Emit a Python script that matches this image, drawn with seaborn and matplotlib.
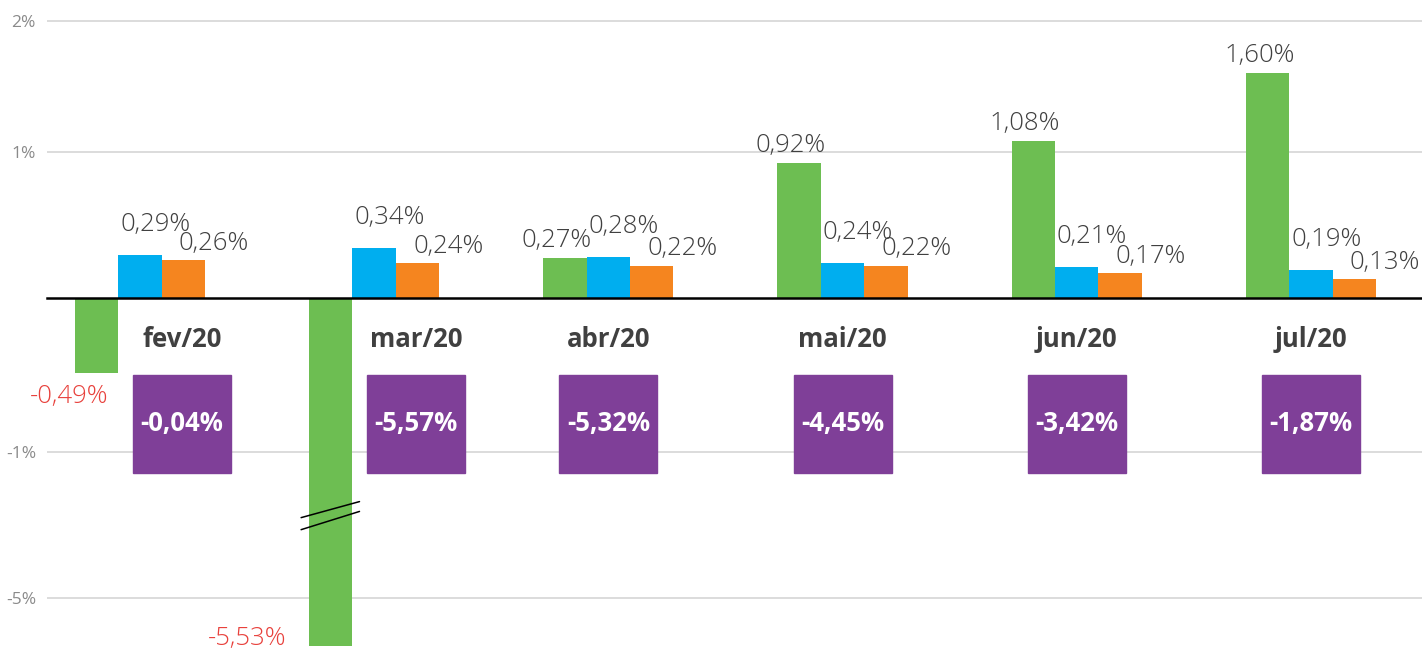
import numpy as np
import pandas as pd
import seaborn as sns
import matplotlib.pyplot as plt
from matplotlib.scale import FuncScale
from matplotlib.transforms import blended_transform_factory

# Dados (variação % por mês)
meses = ['fev/20', 'mar/20', 'abr/20', 'mai/20', 'jun/20', 'jul/20']
series = ['verde', 'azul', 'laranja']
verde = [-0.49, -5.53, 0.27, 0.92, 1.08, 1.60]
azul = [0.29, 0.34, 0.28, 0.24, 0.21, 0.19]
laranja = [0.26, 0.24, 0.22, 0.22, 0.17, 0.13]
acumulado = [-0.04, -5.57, -5.32, -4.45, -3.42, -1.87]

y_ticks = [2, 1, -1, -5]
y_tick_labels = ['2%', '1%', '-1%', '-5%']

cores = ['#6dbe52', '#00aeef', '#f5851f']
roxo = '#7f3f98'
vermelho = '#e8413c'
cinza_texto = '#404040'

df = pd.DataFrame({
    'mes': meses * 3,
    'serie': [s for s in series for _ in meses],
    'valor': verde + azul + laranja,
})

# eixo y "quebrado": escala comprimida abaixo de -1%
esc_val = [-50.0, -5.0, -1.0, 0.0, 1.0, 2.0, 50.0]
esc_pos = [-30.5, -2.055, -1.055, 0.0, 1.0, 1.897, 44.95]


def fwd(v):
    return np.interp(v, esc_val, esc_pos)


def inv(p):
    return np.interp(p, esc_pos, esc_val)


sns.set_style('white')
plt.rcParams['font.family'] = ['Open Sans', 'DejaVu Sans']

fig = plt.figure(figsize=(14.22, 6.51), dpi=100)
ax = fig.add_axes([47 / 1422, 0, 1 - 47 / 1422, 1])
ax.set_yscale(FuncScale(ax, (fwd, inv)))

sns.barplot(data=df, x='mes', y='valor', hue='serie', hue_order=series,
            palette=cores, saturation=1, width=0.556, gap=0, linewidth=0,
            legend=False, ax=ax)

ax.set_ylim(-5.58, 2.16)
ax.set_xlim(-0.397, 5.474)
ax.set_xlabel('')
ax.set_ylabel('')

# grade e eixo
ax.set_yticks(y_ticks)
ax.set_yticklabels(y_tick_labels)
ax.yaxis.grid(True, color='#d6d6d6', lw=1.2)
ax.set_axisbelow(True)
ax.tick_params(axis='y', length=0, pad=8, labelsize=12.5, labelcolor='#8a8a8a')

for s in ['top', 'right', 'left']:
    ax.spines[s].set_visible(False)
ax.spines['bottom'].set_position(('data', 0))
ax.spines['bottom'].set_color('black')
ax.spines['bottom'].set_linewidth(1.8)
ax.spines['bottom'].set_zorder(4)

ax.set_xticks([-0.39, 0.5, 1.5, 2.5, 3.5, 4.5])
ax.set_xticklabels([''] * 6)
ax.tick_params(axis='x', direction='out', length=11, width=1.8, color='black')


def fmt(v):
    return f'{v:.2f}'.replace('.', ',') + '%'


# rótulos das barras
deslocs = {'verde': (-6, 4), 'azul': (11, 13), 'laranja': (22, 3)}
for serie, cont in zip(series, ax.containers):
    dx, dy = deslocs[serie]
    for bar in cont:
        v = bar.get_height()
        cx = bar.get_x() + bar.get_width() / 2
        if v >= 0:
            ax.annotate(fmt(v), (cx, v), xytext=(dx, dy), textcoords='offset points',
                        ha='center', va='bottom', fontsize=18.5, fontweight='light',
                        color=cinza_texto)
        elif v > -1:
            ax.annotate(fmt(v), (cx, v), xytext=(-20, -8), textcoords='offset points',
                        ha='center', va='top', fontsize=18.5, fontweight='light',
                        color=vermelho)
        else:
            ax.annotate(fmt(v), (bar.get_x(), v), xytext=(-16, 1), textcoords='offset points',
                        ha='right', va='baseline', fontsize=18.5, fontweight='light',
                        color=vermelho)
            # marca de quebra da barra
            x0 = bar.get_x() - 0.034
            x1 = bar.get_x() + bar.get_width() + 0.03
            ax.plot([x0, x1], [-2.81, -2.37], color='black', lw=1.1, zorder=5)
            ax.plot([x0, x1], [-3.14, -2.64], color='black', lw=1.1, zorder=5)

# meses e caixas do acumulado
trans = blended_transform_factory(ax.transData, ax.transAxes)
for i, (mes, ac) in enumerate(zip(meses, acumulado)):
    x = i + (0.18 if verde[i] < 0 else 0)
    ax.text(x, 0.478, mes, transform=trans, ha='center', va='center',
            fontsize=18.5, fontweight='bold', color=cinza_texto)
    ax.plot([x], [0.349], marker='s', ms=70.5, color=roxo, transform=trans,
            clip_on=False, zorder=3)
    ax.text(x, 0.349, fmt(ac), transform=trans, ha='center', va='center',
            fontsize=18.5, fontweight='bold', color='white', zorder=4)

fig.savefig('out.png', dpi=100)
